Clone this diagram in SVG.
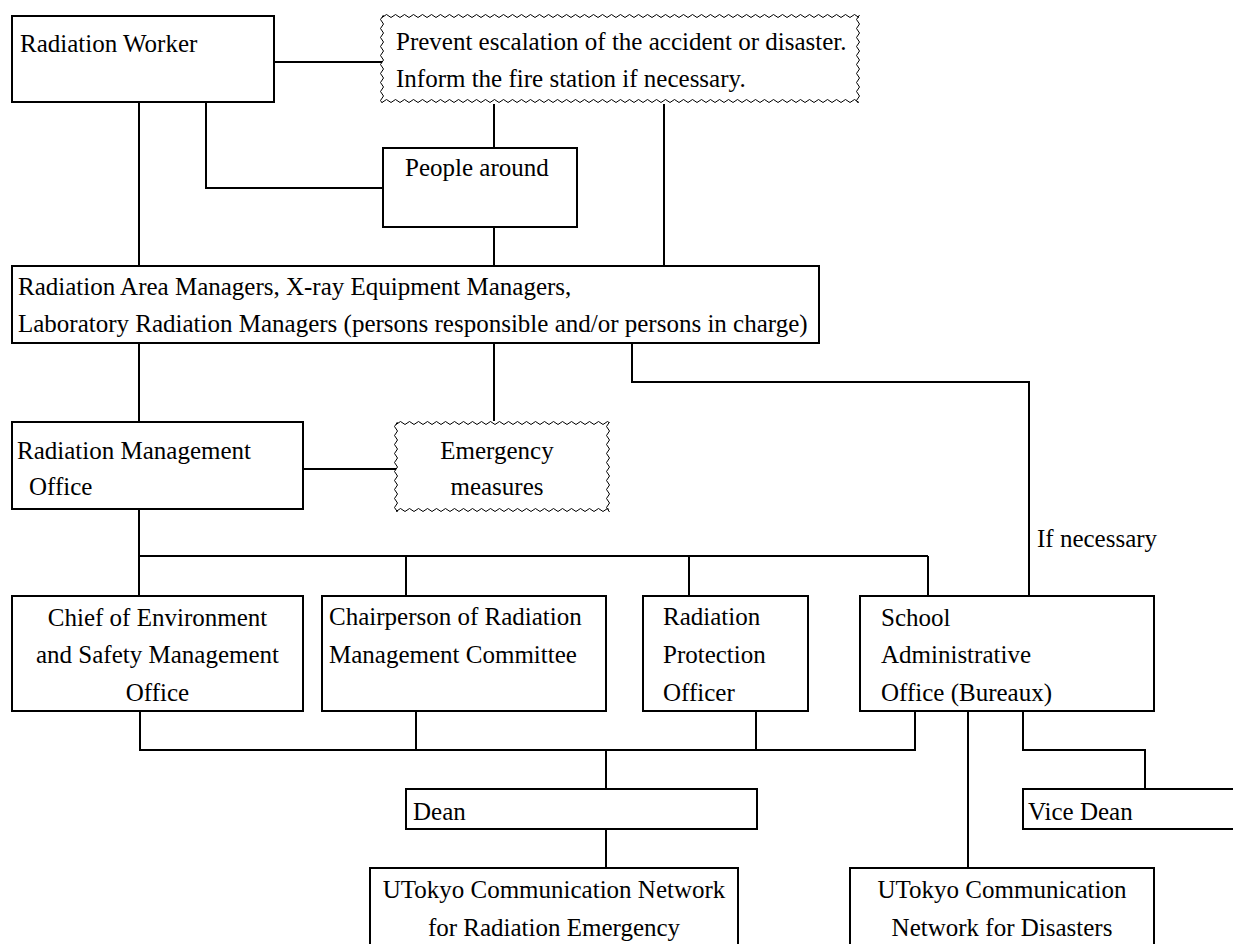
<svg xmlns="http://www.w3.org/2000/svg" width="1233" height="944" viewBox="0 0 1233 944">
<style>
.box{fill:#fff;stroke:#000;stroke-width:2}
.t{font-family:"Liberation Serif","Times New Roman",serif;font-size:25px;fill:#000}
.c{text-anchor:middle}
.con{fill:none;stroke:#000;stroke-width:2}
</style>
<defs>
<pattern id="zh" patternUnits="userSpaceOnUse" width="9" height="6"><polyline points="0,4.5 4.5,1.5 9,4.5" fill="none" stroke="#000" stroke-width="1"/></pattern>
<pattern id="zv" patternUnits="userSpaceOnUse" width="6" height="9"><polyline points="4.5,0 1.5,4.5 4.5,9" fill="none" stroke="#000" stroke-width="1"/></pattern>
</defs>
<rect width="1233" height="944" fill="#fff"/>
<g id="connectors">
<path class="con" d="M274,62 H382"/>
<path class="con" d="M139,102 V266"/>
<path class="con" d="M206,102 V188 H383"/>
<path class="con" d="M494,104 V148"/>
<path class="con" d="M664,104 V266"/>
<path class="con" d="M494,227 V266"/>
<path class="con" d="M139,343 V422"/>
<path class="con" d="M494,343 V421"/>
<path class="con" d="M632,343 V382 H1029 V596"/>
<path class="con" d="M303,469 H396"/>
<path class="con" d="M139,509 V556 M139,556 H928 M139,556 V596 M406,556 V596 M689,556 V596 M928,556 V596"/>
<path class="con" d="M140,711 V750 H915 V711 M416,711 V750 M756,711 V750 M606,750 V789"/>
<path class="con" d="M606,829 V868"/>
<path class="con" d="M968,711 V868"/>
<path class="con" d="M1023,711 V750 H1145 V789"/>
</g>
<g id="radiation-worker">
<rect class="box" x="12" y="16" width="262" height="86"/>
<text class="t" x="20" y="52">Radiation Worker</text>
</g>
<g id="prevent">
<g transform="translate(382,13)"><rect width="477" height="6" fill="url(#zh)"/></g>
<g transform="translate(382,98)"><rect width="477" height="6" fill="url(#zh)"/></g>
<g transform="translate(379,15)"><rect width="6" height="88" fill="url(#zv)"/></g>
<g transform="translate(855,15)"><rect width="6" height="88" fill="url(#zv)"/></g>
<text class="t" x="396" y="50">Prevent escalation of the accident or disaster.</text>
<text class="t" x="396" y="87">Inform the fire station if necessary.</text>
</g>
<g id="people-around">
<rect class="box" x="383" y="148" width="194" height="79"/>
<text class="t" x="405" y="176">People around</text>
</g>
<g id="managers">
<rect class="box" x="12" y="266" width="807" height="77"/>
<text class="t" x="18" y="295">Radiation Area Managers, X-ray Equipment Managers,</text>
<text class="t" x="18" y="332">Laboratory Radiation Managers (persons responsible and/or persons in charge)</text>
</g>
<g id="radiation-management-office">
<rect class="box" x="12" y="422" width="291" height="87"/>
<text class="t" x="17" y="459">Radiation Management</text>
<text class="t" x="29" y="495">Office</text>
</g>
<g id="emergency-measures">
<g transform="translate(396,420)"><rect width="213" height="6" fill="url(#zh)"/></g>
<g transform="translate(396,507)"><rect width="213" height="6" fill="url(#zh)"/></g>
<g transform="translate(393,422)"><rect width="6" height="90" fill="url(#zv)"/></g>
<g transform="translate(605,422)"><rect width="6" height="90" fill="url(#zv)"/></g>
<text class="t c" x="497" y="459">Emergency</text>
<text class="t c" x="497" y="495">measures</text>
</g>
<g id="if-necessary-label">
<text class="t" x="1037" y="547">If necessary</text>
</g>
<g id="chief">
<rect class="box" x="12" y="596" width="291" height="115"/>
<text class="t c" x="157.5" y="626">Chief of Environment</text>
<text class="t c" x="157.5" y="663">and Safety Management</text>
<text class="t c" x="157.5" y="701">Office</text>
</g>
<g id="chairperson">
<rect class="box" x="322" y="596" width="284" height="115"/>
<text class="t" x="329" y="625">Chairperson of Radiation</text>
<text class="t" x="329" y="663">Management Committee</text>
</g>
<g id="radiation-protection-officer">
<rect class="box" x="643" y="596" width="165" height="115"/>
<text class="t" x="663" y="625">Radiation</text>
<text class="t" x="663" y="663">Protection</text>
<text class="t" x="663" y="701">Officer</text>
</g>
<g id="school-office">
<rect class="box" x="860" y="596" width="294" height="115"/>
<text class="t" x="881" y="626">School</text>
<text class="t" x="881" y="663">Administrative</text>
<text class="t" x="881" y="701">Office (Bureaux)</text>
</g>
<g id="dean">
<rect class="box" x="406" y="789" width="351" height="40"/>
<text class="t" x="413" y="820">Dean</text>
</g>
<g id="vice-dean">
<rect class="box" x="1023" y="789" width="230" height="40"/>
<text class="t" x="1028" y="820">Vice Dean</text>
</g>
<g id="utokyo-radiation">
<rect class="box" x="370" y="868" width="368" height="100"/>
<text class="t c" x="554" y="898">UTokyo Communication Network</text>
<text class="t c" x="554" y="936">for Radiation Emergency</text>
</g>
<g id="utokyo-disasters">
<rect class="box" x="850" y="868" width="304" height="100"/>
<text class="t c" x="1002" y="898">UTokyo Communication</text>
<text class="t c" x="1002" y="936">Network for Disasters</text>
</g>
</svg>
